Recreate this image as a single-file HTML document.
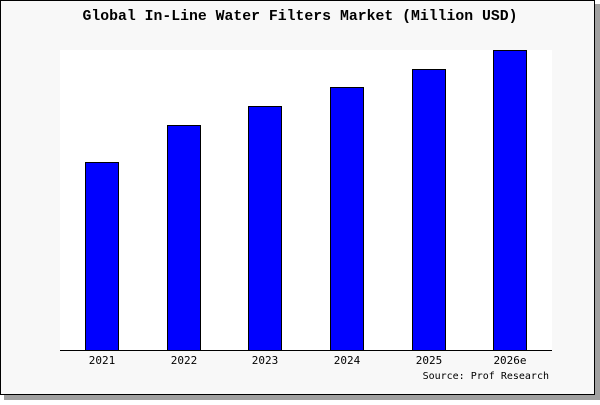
<!DOCTYPE html>
<html><head><style>body{margin:0;background:#fff}</style></head><body>
<svg width="600" height="400" xmlns="http://www.w3.org/2000/svg" font-family="'DejaVu Sans Mono','Liberation Mono',monospace">
<rect x="4" y="4" width="596" height="396" fill="#a0a0a0"/>
<rect x="0.5" y="0.5" width="594" height="394" fill="#f8f8f8" stroke="#000"/>
<rect x="60" y="50" width="492" height="300" fill="#fff"/>
<text x="300" y="20" text-anchor="middle" font-size="14.8" font-weight="bold" font-family="'Liberation Mono',monospace">Global In-Line Water Filters Market (Million USD)</text>
<g fill="#0000ff" stroke="#000" stroke-width="1">
<rect x="85.5" y="162.5" width="33" height="188"/>
<rect x="167.5" y="125.5" width="33" height="225"/>
<rect x="248.5" y="106.5" width="33" height="244"/>
<rect x="330.5" y="87.5" width="33" height="263"/>
<rect x="412.5" y="69.5" width="33" height="281"/>
<rect x="493.5" y="50.5" width="33" height="300"/>
</g>
<line x1="60" y1="350.5" x2="552" y2="350.5" stroke="#000"/>
<g font-size="11" text-anchor="middle">
<text x="102" y="364">2021</text><text x="184" y="364">2022</text><text x="265" y="364">2023</text>
<text x="347" y="364">2024</text><text x="429" y="364">2025</text><text x="510" y="364">2026e</text>
</g>
<text x="549" y="379" font-size="10" text-anchor="end">Source: Prof Research</text>
</svg>
</body></html>
